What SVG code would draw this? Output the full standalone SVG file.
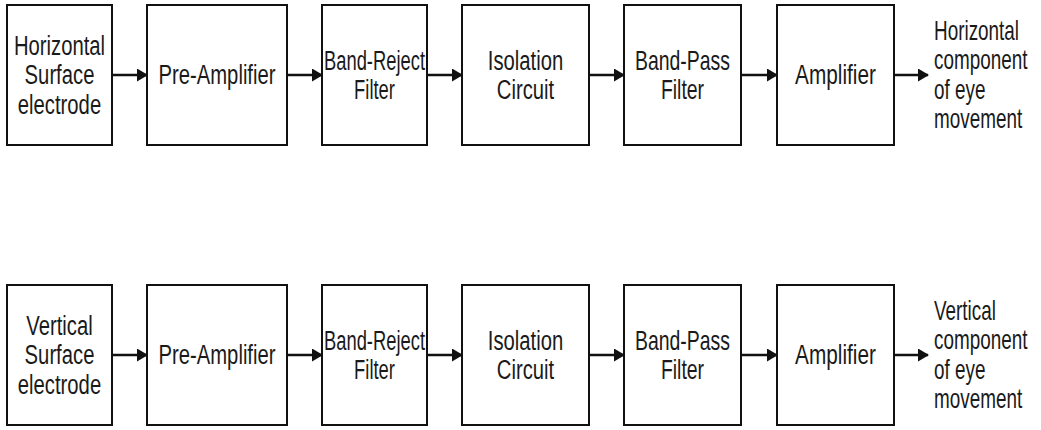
<svg xmlns="http://www.w3.org/2000/svg" width="1041" height="430" viewBox="0 0 1041 430">
<style>
.box{fill:#fff;stroke:#111;stroke-width:2}
.t{font-family:"Liberation Sans",Arial,sans-serif;font-size:27px;fill:#1a1a1a;text-anchor:middle}
.o{font-family:"Liberation Sans",Arial,sans-serif;font-size:27px;fill:#1a1a1a;text-anchor:start}
.c{stroke:#111;stroke-width:2.5;fill:none;marker-end:url(#ah)}
</style>
<defs>
<marker id="ah" markerUnits="userSpaceOnUse" markerWidth="11" markerHeight="13" refX="10" refY="6.5" orient="auto">
<path d="M0,0 L11,6.5 L0,13 z" fill="#111"/>
</marker>
</defs>
<rect width="1041" height="430" fill="#fff"/>
<g id="row1">
<g id="h-electrode"><rect class="box" x="7" y="5" width="105" height="140"/>
<text class="t" transform="translate(59.5 0) scale(0.75 1)"><tspan x="0" y="55">Horizontal</tspan><tspan x="0" y="84.5">Surface</tspan><tspan x="0" y="114">electrode</tspan></text></g>
<g id="h-preamp"><rect class="box" x="147" y="5" width="140" height="140"/>
<text class="t" transform="translate(217 0) scale(0.75 1)"><tspan x="0" y="84.5">Pre-Amplifier</tspan></text></g>
<g id="h-bandreject"><rect class="box" x="322" y="5" width="105" height="140"/>
<text class="t" transform="translate(374.5 0) scale(0.68 1)"><tspan x="0" y="70">Band-Reject</tspan><tspan x="0" y="99.5">Filter</tspan></text></g>
<g id="h-isolation"><rect class="box" x="462" y="5" width="127" height="140"/>
<text class="t" transform="translate(525.5 0) scale(0.75 1)"><tspan x="0" y="70">Isolation</tspan><tspan x="0" y="99.5">Circuit</tspan></text></g>
<g id="h-bandpass"><rect class="box" x="624" y="5" width="117" height="140"/>
<text class="t" transform="translate(682.5 0) scale(0.72 1)"><tspan x="0" y="70">Band-Pass</tspan><tspan x="0" y="99.5">Filter</tspan></text></g>
<g id="h-amplifier"><rect class="box" x="777" y="5" width="117" height="140"/>
<text class="t" transform="translate(835.5 0) scale(0.77 1)"><tspan x="0" y="84.5">Amplifier</tspan></text></g>
<g id="h-output">
<text class="o" transform="translate(934 0) scale(0.7 1)"><tspan x="0" y="40">Horizontal</tspan><tspan x="0" y="69.5">component</tspan><tspan x="0" y="99">of eye</tspan><tspan x="0" y="128.5">movement</tspan></text></g>
</g>
<g id="row2">
<g id="v-electrode"><rect class="box" x="7" y="285" width="105" height="140"/>
<text class="t" transform="translate(59.5 0) scale(0.75 1)"><tspan x="0" y="335">Vertical</tspan><tspan x="0" y="364.5">Surface</tspan><tspan x="0" y="394">electrode</tspan></text></g>
<g id="v-preamp"><rect class="box" x="147" y="285" width="140" height="140"/>
<text class="t" transform="translate(217 0) scale(0.75 1)"><tspan x="0" y="364.5">Pre-Amplifier</tspan></text></g>
<g id="v-bandreject"><rect class="box" x="322" y="285" width="105" height="140"/>
<text class="t" transform="translate(374.5 0) scale(0.68 1)"><tspan x="0" y="350">Band-Reject</tspan><tspan x="0" y="379.5">Filter</tspan></text></g>
<g id="v-isolation"><rect class="box" x="462" y="285" width="127" height="140"/>
<text class="t" transform="translate(525.5 0) scale(0.75 1)"><tspan x="0" y="350">Isolation</tspan><tspan x="0" y="379.5">Circuit</tspan></text></g>
<g id="v-bandpass"><rect class="box" x="624" y="285" width="117" height="140"/>
<text class="t" transform="translate(682.5 0) scale(0.72 1)"><tspan x="0" y="350">Band-Pass</tspan><tspan x="0" y="379.5">Filter</tspan></text></g>
<g id="v-amplifier"><rect class="box" x="777" y="285" width="117" height="140"/>
<text class="t" transform="translate(835.5 0) scale(0.77 1)"><tspan x="0" y="364.5">Amplifier</tspan></text></g>
<g id="v-output">
<text class="o" transform="translate(934 0) scale(0.7 1)"><tspan x="0" y="320">Vertical</tspan><tspan x="0" y="349.5">component</tspan><tspan x="0" y="379">of eye</tspan><tspan x="0" y="408.5">movement</tspan></text></g>
</g>
<g id="connectors">
<path class="c" d="M112 75H147"/>
<path class="c" d="M287 75H322"/>
<path class="c" d="M427 75H462"/>
<path class="c" d="M589 75H624"/>
<path class="c" d="M741 75H777"/>
<path class="c" d="M894 75H928"/>
<path class="c" d="M112 355H147"/>
<path class="c" d="M287 355H322"/>
<path class="c" d="M427 355H462"/>
<path class="c" d="M589 355H624"/>
<path class="c" d="M741 355H777"/>
<path class="c" d="M894 355H928"/>
</g>
</svg>
